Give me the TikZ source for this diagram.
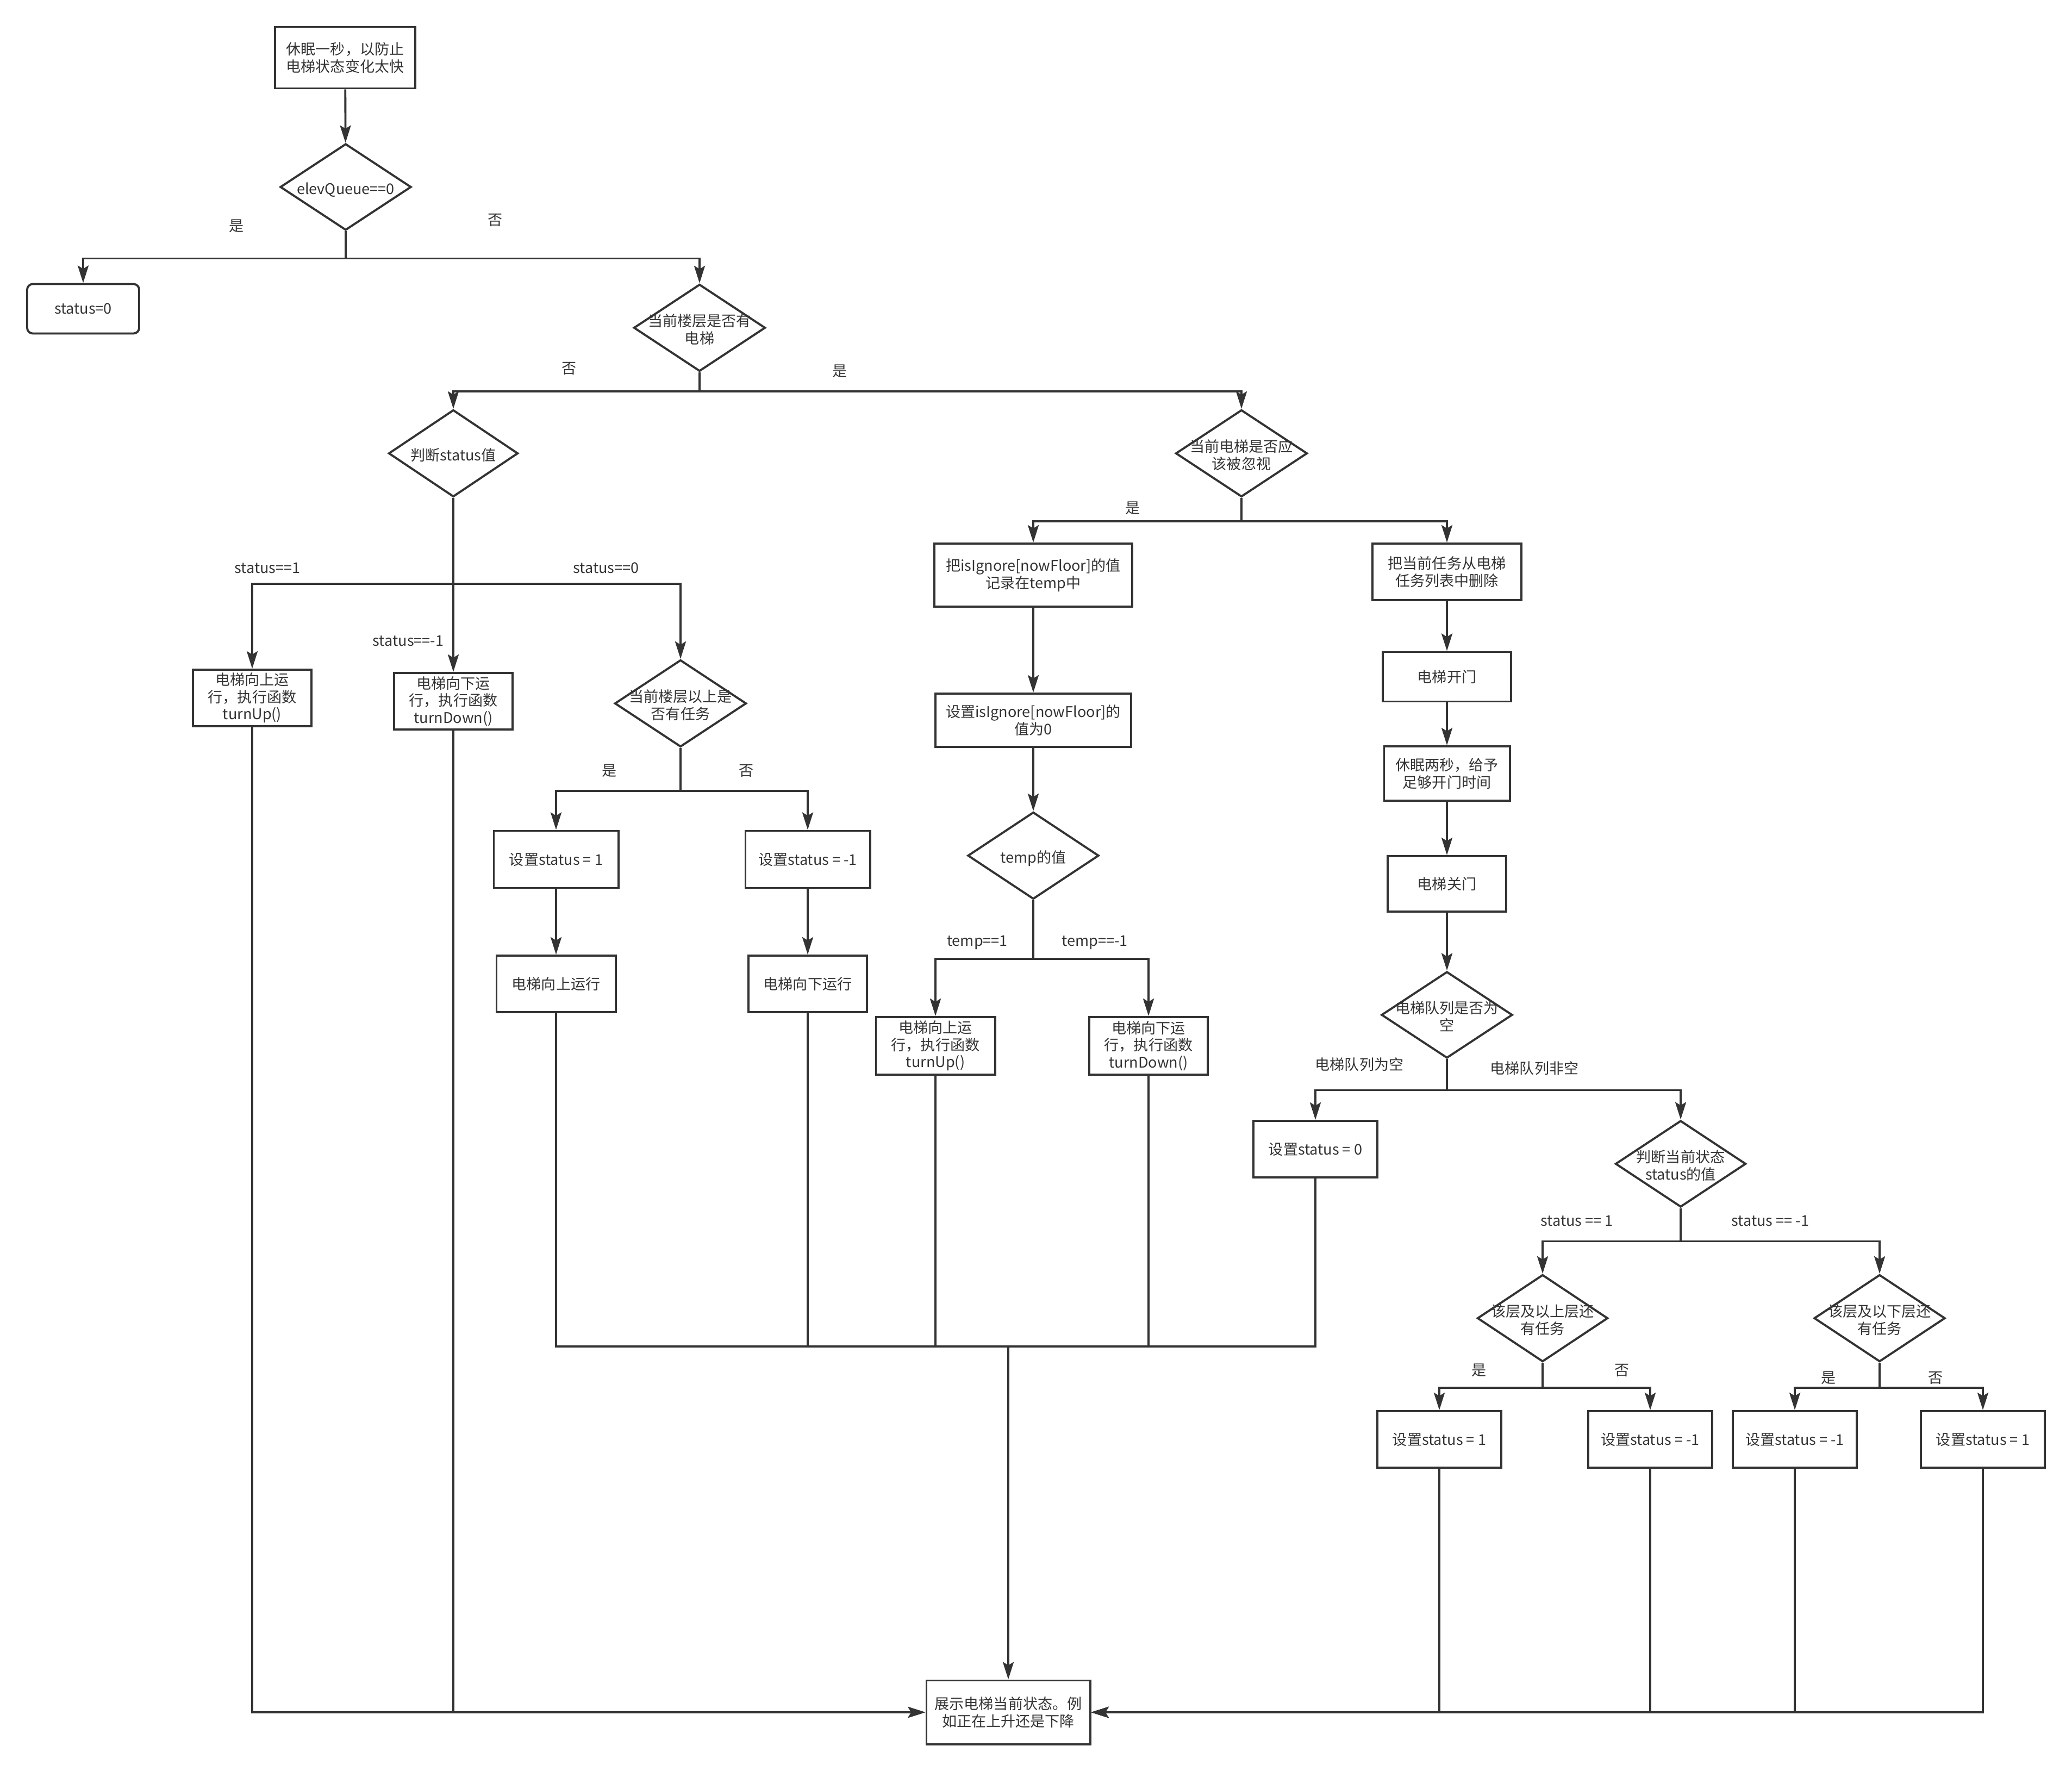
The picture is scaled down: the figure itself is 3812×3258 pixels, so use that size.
\documentclass[tikz,border=0pt]{standalone}
\usepackage{fontspec}
\setmainfont{Noto Sans CJK SC}
\usetikzlibrary{arrows.meta, shapes.geometric}
\definecolor{cLine}{HTML}{333333}
\newcommand{\dlbl}[1]{\makebox[0pt]{\raisebox{-0.7mm}[\height][\depth]{\begin{tabular}{@{}c@{}}#1\end{tabular}}}}

\begin{document}
\begin{tikzpicture}[
    x=0.01cm, y=-0.01cm, font=\fontsize{7.7pt}{9pt}\selectfont,
    box/.style 2 args={rectangle, draw=cLine, line width=1.1pt, text=cLine,
                       minimum width=#1, minimum height=#2, inner sep=0pt,
                       align=center},
    dia/.style 2 args={diamond, draw=cLine, line width=1.1pt, text=cLine,
                       minimum width=#1, minimum height=#2, inner sep=0pt},
    flow/.style={-{Stealth[length=3.2mm, width=2mm, inset=0.6mm]},
                 line width=1.1pt, cLine},
    wire/.style={line width=1.1pt, cLine},
    lbl/.style={text=cLine, inner sep=1pt},
]
\useasboundingbox (0,0) rectangle (3812,3258);

% ===================== Inicio =====================
\node[box={2.57cm}{1.13cm}] (sleep1) at (635,106) {休眠一秒，以防止\\电梯状态变化太快};
\node[dia={2.41cm}{1.59cm}] (dQueue) at (636,344) {\dlbl{elevQueue==0}};
\node[box={2.06cm}{0.91cm}, rounded corners=3pt] (st0) at (153,568) {status=0};
\node[dia={2.42cm}{1.60cm}] (dFloor) at (1287,603) {\dlbl{当前楼层是否有\\电梯}};

\node[lbl] (lQy) at (435,416) {是};
\node[lbl] (lQn) at (911,405) {否};
\node[lbl] (lFn) at (1047,678) {否};
\node[lbl] (lFy) at (1545,683) {是};

% ===================== Rama: sin ascensor en la planta =====================
\node[dia={2.38cm}{1.60cm}] (dStat) at (834,834) {\dlbl{判断status值}};
\node[box={2.18cm}{1.04cm}] (up1) at (464,1284) {电梯向上运\\行，执行函数\\turnUp()};
\node[box={2.18cm}{1.04cm}] (down1) at (834,1290) {电梯向下运\\行，执行函数\\turnDown()};
\node[dia={2.42cm}{1.60cm}] (dAbove) at (1252,1294) {\dlbl{当前楼层以上是\\否有任务}};
\node[box={2.29cm}{1.05cm}] (set1) at (1023,1581) {设置status = 1};
\node[box={2.29cm}{1.05cm}] (setm1) at (1486,1581) {设置status = -1};
\node[box={2.19cm}{1.04cm}] (runUp) at (1023,1810) {电梯向上运行};
\node[box={2.18cm}{1.04cm}] (runDown) at (1486,1810) {电梯向下运行};

\node[lbl] (lS1) at (492,1045) {status==1};
\node[lbl] (lS0) at (1115,1045) {status==0};
\node[lbl] (lSm1) at (751,1179) {status==-1};
\node[lbl] (lAy) at (1121,1418) {是};
\node[lbl] (lAn) at (1373,1418) {否};

% ===================== Rama: ascensor en la planta =====================
\node[dia={2.42cm}{1.60cm}] (dIgn) at (2284,834) {\dlbl{当前电梯是否应\\该被忽视}};
\node[lbl] (lIy) at (2084,935) {是};

\node[box={3.64cm}{1.16cm}] (rec) at (1901,1058) {把isIgnore[nowFloor]的值\\记录在temp中};
\node[box={3.60cm}{0.98cm}] (setIg) at (1901,1325) {设置isIgnore[nowFloor]的\\值为0};
\node[dia={2.41cm}{1.60cm}] (dTemp) at (1901,1574) {\dlbl{temp的值}};
\node[box={2.19cm}{1.06cm}] (up2) at (1721,1924) {电梯向上运\\行，执行函数\\turnUp()};
\node[box={2.18cm}{1.06cm}] (down2) at (2113,1924) {电梯向下运\\行，执行函数\\turnDown()};
\node[lbl] (lT1) at (1798,1734) {temp==1};
\node[lbl] (lTm1) at (2014,1734) {temp==-1};

\node[box={2.74cm}{1.04cm}] (del) at (2662,1052) {把当前任务从电梯\\任务列表中删除};
\node[box={2.36cm}{0.91cm}] (open) at (2662,1245) {电梯开门};
\node[box={2.31cm}{1.00cm}] (sleep2) at (2662,1423) {休眠两秒，给予\\足够开门时间};
\node[box={2.18cm}{1.02cm}] (close) at (2662,1626) {电梯关门};
\node[dia={2.41cm}{1.59cm}] (dEmpty) at (2662,1867) {\dlbl{电梯队列是否为\\空}};
\node[lbl] (lEy) at (2501,1958) {电梯队列为空};
\node[lbl] (lEn) at (2823,1965) {电梯队列非空};

\node[box={2.28cm}{1.04cm}] (set0) at (2420,2114) {设置status = 0};
\node[dia={2.40cm}{1.59cm}] (dCur) at (3092,2141) {\dlbl{判断当前状态\\status的值}};
\node[lbl] (lC1) at (2901,2246) {status == 1};
\node[lbl] (lCm1) at (3257,2246) {status == -1};

\node[dia={2.40cm}{1.60cm}] (dUp) at (2838,2425) {\dlbl{该层及以上层还\\有任务}};
\node[dia={2.41cm}{1.60cm}] (dDown) at (3458,2425) {\dlbl{该层及以下层还\\有任务}};
\node[lbl] (lUy) at (2721,2521) {是};
\node[lbl] (lUn) at (2984,2521) {否};
\node[lbl] (lDy) at (3364,2535) {是};
\node[lbl] (lDn) at (3561,2535) {否};

\node[box={2.28cm}{1.04cm}] (sA) at (2648,2648) {设置status = 1};
\node[box={2.28cm}{1.04cm}] (sB) at (3036,2648) {设置status = -1};
\node[box={2.28cm}{1.04cm}] (sC) at (3302,2648) {设置status = -1};
\node[box={2.28cm}{1.04cm}] (sD) at (3648,2648) {设置status = 1};

% ===================== Final =====================
\node[box={3.01cm}{1.17cm}] (show) at (1855,3150) {展示电梯当前状态。例\\如正在上升还是下降};
\coordinate (mrg) at (1855,2477);

% ===================== Conexiones =====================
\draw[flow] (sleep1) -- (dQueue);
\draw[flow] (dQueue.south) -- ++(0,50) -| (st0.north);
\draw[flow] (dQueue.south) -- ++(0,50) -| (dFloor.north);
\draw[flow] (dFloor.south) -- ++(0,35) -| (dStat.north);
\draw[flow] (dFloor.south) -- ++(0,35) -| (dIgn.north);

\draw[flow] (dStat.south) -- ++(0,158) -| (up1.north);
\draw[flow] (dStat) -- (down1);
\draw[flow] (dStat.south) -- ++(0,158) -| (dAbove.north);
\draw[flow] (dAbove.south) -- ++(0,79) -| (set1.north);
\draw[flow] (dAbove.south) -- ++(0,79) -| (setm1.north);
\draw[flow] (set1) -- (runUp);
\draw[flow] (setm1) -- (runDown);

\draw[flow] (dIgn.south) -- ++(0,43) -| (rec.north);
\draw[flow] (dIgn.south) -- ++(0,43) -| (del.north);
\draw[flow] (rec) -- (setIg);
\draw[flow] (setIg) -- (dTemp);
\draw[flow] (dTemp.south) -- ++(0,108) -| (up2.north);
\draw[flow] (dTemp.south) -- ++(0,108) -| (down2.north);

\draw[flow] (del) -- (open);
\draw[flow] (open) -- (sleep2);
\draw[flow] (sleep2) -- (close);
\draw[flow] (close) -- (dEmpty);
\draw[flow] (dEmpty.south) -- ++(0,57) -| (set0.north);
\draw[flow] (dEmpty.south) -- ++(0,57) -| (dCur.north);
\draw[flow] (dCur.south) -- ++(0,61) -| (dUp.north);
\draw[flow] (dCur.south) -- ++(0,61) -| (dDown.north);
\draw[flow] (dUp.south) -- ++(0,46) -| (sA.north);
\draw[flow] (dUp.south) -- ++(0,46) -| (sB.north);
\draw[flow] (dDown.south) -- ++(0,46) -| (sC.north);
\draw[flow] (dDown.south) -- ++(0,46) -| (sD.north);

% ===================== Hacia el nodo final =====================
\draw[wire] (runUp.south) |- (mrg);
\draw[wire] (runDown.south) |- (mrg);
\draw[wire] (up2.south) |- (mrg);
\draw[wire] (down2.south) |- (mrg);
\draw[wire] (set0.south) |- (mrg);
\draw[flow] (mrg) -- (show.north);

\draw[flow] (up1.south) |- (show.west);
\draw[flow] (down1.south) |- (show.west);
\draw[flow] (sA.south) |- (show.east);
\draw[flow] (sB.south) |- (show.east);
\draw[flow] (sC.south) |- (show.east);
\draw[flow] (sD.south) |- (show.east);

\end{tikzpicture}
\end{document}
